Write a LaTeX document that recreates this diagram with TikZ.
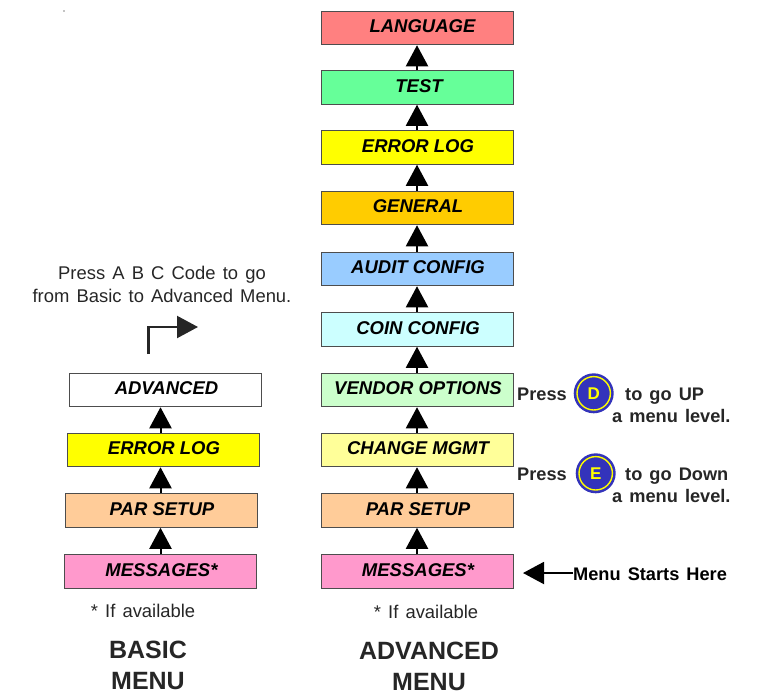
\documentclass[tikz,border=0pt]{standalone}
\usepackage{fontspec}
\setmainfont{Liberation Sans}
\newfontfamily\notefont[WordSpace=1.4]{Liberation Sans}
\usetikzlibrary{arrows.meta}
\usetikzlibrary{calc,positioning}
\definecolor{framegray}{HTML}{4D4D4D}
\definecolor{inkgray}{HTML}{262626}
\definecolor{buttonblue}{HTML}{3333BB}
\definecolor{pureyellow}{HTML}{FFFF00}
\tikzset{
  menubox/.style={draw=framegray,line width=1pt,minimum width=192pt,minimum height=33.5pt,inner sep=0pt,
    text height=13.4pt,text depth=4.4pt,font=\fontsize{18.5}{20}\selectfont\bfseries\itshape},
  uparrow/.style={->,line width=2pt},
  plainnote/.style={inner sep=0pt,text=inkgray,align=center,font=\notefont\fontsize{18.4}{23}\selectfont},
  boldnote/.style={inner sep=0pt,text=inkgray,anchor=west,text height=13pt,text depth=4pt,
    font=\notefont\fontsize{18.2}{20}\selectfont\bfseries},
  bigtitle/.style={inner sep=0pt,text=inkgray,font=\fontsize{25}{32}\selectfont\bfseries},
  menubutton/.style={circle,fill=buttonblue,minimum size=40pt,inner sep=0pt,text=pureyellow,
    font=\fontsize{17}{20}\selectfont\bfseries,
    path picture={\draw[pureyellow,line width=1.4pt] (path picture bounding box.center) circle (16.7pt);}},
}
\begin{document}
\begin{tikzpicture}[x=1pt,y=-1pt,>={Triangle[length=21pt,width=22pt]}]
    \useasboundingbox (0,0) rectangle (759,693);
    \node[fill=black,circle,inner sep=0.4pt] (speck) at (64,11) {};
    % Advanced menu column
    \node[menubox,fill={rgb,255:red,255;green,128;blue,128}] (language) at (417,28) {\hspace*{11pt}LANGUAGE};
    \node[menubox,fill={rgb,255:red,102;green,255;blue,153}] (test) at (417,87.5) {\hspace*{4pt}TEST};
    \node[menubox,fill=pureyellow] (errorlog) at (417,147.5) {\hspace*{2pt}ERROR LOG};
    \node[menubox,fill={rgb,255:red,255;green,204;blue,0}] (general) at (417,208) {\hspace*{2pt}GENERAL};
    \node[menubox,fill={rgb,255:red,153;green,204;blue,255}] (auditconfig) at (417,269) {\hspace*{2pt}AUDIT CONFIG};
    \node[menubox,fill={rgb,255:red,204;green,255;blue,255}] (coinconfig) at (417,329.5) {\hspace*{2pt}COIN CONFIG};
    \node[menubox,fill={rgb,255:red,204;green,255;blue,204}] (vendor) at (417,390) {\hspace*{2pt}VENDOR OPTIONS};
    \node[menubox,fill={rgb,255:red,255;green,255;blue,153}] (change) at (417,450) {\hspace*{2pt}CHANGE MGMT};
    \node[menubox,fill={rgb,255:red,255;green,204;blue,153}] (parsetup) at (417,510.5) {\hspace*{2pt}PAR SETUP};
    \node[menubox,fill={rgb,255:red,255;green,153;blue,204}] (messages) at (417,571.5) {\hspace*{2pt}MESSAGES*};
    \draw[uparrow] (test) -- (language);
    \draw[uparrow] (errorlog) -- (test);
    \draw[uparrow] (general) -- (errorlog);
    \draw[uparrow] (auditconfig) -- (general);
    \draw[uparrow] (coinconfig) -- (auditconfig);
    \draw[uparrow] (vendor) -- (coinconfig);
    \draw[uparrow] (change) -- (vendor);
    \draw[uparrow] (parsetup) -- (change);
    \draw[uparrow] (messages) -- (parsetup);
    % Basic menu column: the boxes are not quite aligned
    \node[menubox,fill=white] (basicadvanced) at (165.5,390) {\hspace*{2pt}ADVANCED};
    \node[menubox,fill=pureyellow] (basicerror) at (163,450) {\hspace*{2pt}ERROR LOG};
    \node[menubox,fill={rgb,255:red,255;green,204;blue,153}] (basicpar) at (161,510.5) {\hspace*{2pt}PAR SETUP};
    \node[menubox,fill={rgb,255:red,255;green,153;blue,204}] (basicmessages) at (160.5,571.5) {\hspace*{2pt}MESSAGES*};
    \draw[uparrow] (basicmessages.north) -- (basicmessages.north |- basicpar.south);
    \draw[uparrow] (basicmessages.north |- basicpar.north) -- (basicmessages.north |- basicerror.south);
    \draw[uparrow] (basicmessages.north |- basicerror.north) -- (basicmessages.north |- basicadvanced.south);
    % Way from basic to advanced
    \node[plainnote] (abccode) at (162,284.5) {Press A B C Code to go\\from Basic to Advanced Menu.};
    \coordinate (bendstart) at (148.5,354);
    \coordinate (bendend) at (198,327);
    \draw[->,line width=2.2pt,draw=black!85] (bendstart) |- (bendend);
    % Footnotes and titles
    \node[plainnote] (basicnote) at (143,611) {* If available};
    \node[plainnote] (advancednote) at (426,612) {* If available};
    \node[bigtitle] (basictitle) at (148,650) {BASIC};
    \node[bigtitle] (basicmenu) at (148,681.5) {MENU};
    \node[bigtitle] (advancedtitle) at (429,651) {ADVANCED};
    \node[bigtitle] (advancedmenu) at (429,682) {MENU};
    % Buttons D and E
    \node[boldnote] (pressd) at (517,395.5) {Press};
    \node[menubutton] (buttond) at (593.7,393.3) {D};
    \node[boldnote] (upd) at (625,395.5) {to go UP};
    \node[boldnote] (leveld) at (612,417.5) {a menu level.};
    \node[boldnote] (presse) at (517,475.5) {Press};
    \node[menubutton] (buttone) at (595.7,473.3) {E};
    \node[boldnote] (downe) at (625,475.5) {to go Down};
    \node[boldnote] (levele) at (612,497.5) {a menu level.};
    % Menu start marker
    \node[boldnote,text=black] (menustart) at (573,576) {Menu Starts Here};
    \coordinate (starttip) at (523,573);
    \draw[->,line width=2pt] (menustart.west |- starttip) -- (starttip);
\end{tikzpicture}
\end{document}
